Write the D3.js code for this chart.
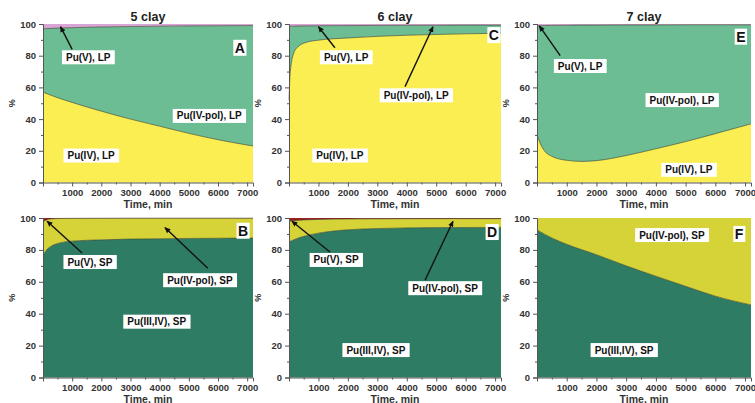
<!DOCTYPE html>
<html>
<head>
<meta charset="utf-8">
<script src="https://cdn.jsdelivr.net/npm/d3@7"></script>
<style>
  body { margin: 0; background: #fff; }
  svg text { font-family: "Liberation Sans", Arial, sans-serif; font-weight: bold; }
  .narrow { font-family: "Liberation Sans Narrow", "Liberation Sans", Arial, sans-serif; }
</style>
</head>
<body>
<script>
// --- data (time in min, share in %) ---
const titles = ['5 clay', '6 clay', '7 clay'];
const xTicks = [1000, 2000, 3000, 4000, 5000, 6000, 7000];
const yTicks = [0, 20, 40, 60, 80, 100];

// 5 clay, LP
const tA = [0, 500, 1000, 2000, 3000, 4000, 5000, 6000, 7200];
const puIV_A = [57, 53.5, 50.5, 45, 40, 35.5, 31, 27, 23];
const puIVpol_A = [40, 43.9, 47.2, 53.1, 58.4, 63.1, 67.8, 71.9, 76];
const puV_A = [3, 2.6, 2.3, 1.9, 1.6, 1.4, 1.2, 1.1, 1.0];

// 6 clay, LP
const tC = [0, 30, 70, 150, 300, 600, 1000, 2000, 3000, 4000, 5000, 6000, 7200];
const puIV_C = [52, 66, 74, 81, 85.5, 88.5, 89.8, 91.2, 92.2, 92.9, 93.4, 93.8, 94.2];
const puIVpol_C = [46.5, 32.5, 24.6, 17.6, 13.2, 10.3, 9.1, 7.8, 6.9, 6.3, 5.8, 5.5, 5.1];
const puV_C = [1.5, 1.5, 1.4, 1.4, 1.3, 1.2, 1.1, 1.0, 0.9, 0.8, 0.8, 0.7, 0.7];

// 7 clay, LP
const tE = [0, 100, 250, 500, 1000, 1500, 2000, 3000, 4000, 5000, 6000, 7200];
const puIV_E = [30, 25, 20, 16.5, 14, 13.3, 13.8, 17, 21.3, 25.8, 30.8, 37];
const puIVpol_E = [68.8, 73.9, 79, 82.6, 85.2, 86, 85.5, 82.4, 78.1, 73.7, 68.7, 62.5];
const puV_E = [1.2, 1.1, 1.0, 0.9, 0.8, 0.7, 0.7, 0.6, 0.6, 0.5, 0.5, 0.5];

// 5 clay, SP
const tB = [0, 50, 120, 250, 500, 1000, 2000, 3000, 4000, 5000, 6000, 7200];
const puIIIIV_B = [76, 78, 80, 82, 84, 85.5, 86.3, 86.8, 87, 87.2, 87.3, 87.4];
const puIVpolSP_B = [21.5, 20.2, 18.8, 17.4, 15.7, 14.3, 13.55, 13.1, 12.9, 12.7, 12.6, 12.5];
const puVSP_B = [2.5, 1.8, 1.2, 0.6, 0.3, 0.2, 0.15, 0.1, 0.1, 0.1, 0.1, 0.1];

// 6 clay, SP
const tD = [0, 250, 500, 1000, 1500, 2000, 3000, 4000, 5000, 7200];
const puIIIIV_D = [85, 87, 88.5, 90.5, 91.8, 92.6, 93.4, 93.8, 94, 94.1];
const puIVpolSP_D = [13, 11.5, 10.3, 8.6, 7.5, 6.8, 6.1, 5.75, 5.6, 5.5];
const puVSP_D = [2, 1.5, 1.2, 0.9, 0.7, 0.6, 0.5, 0.45, 0.4, 0.4];

// 7 clay, SP
const tF = [0, 500, 1000, 2000, 3000, 4000, 5000, 6000, 7200];
const puIIIIV_F = [92.5, 87.5, 83.5, 77, 70, 63.5, 57.2, 51, 45.5];
const puIVpolSP_F = [7.5, 12.5, 16.5, 23, 30, 36.5, 42.8, 49, 54.5];

const yellowLP = '#fbee52', greenLP = '#6cbd94', pinkLP = '#d8a5d6';
const greenSP = '#2e7c64', yellowSP = '#d6d338', redSP = '#9a1f1f';

const width = 755, height = 403;
const cols = [[43, 253], [289, 501], [537, 751]];
const rows = [[24, 182.5], [218, 377.5]];

const panels = [
  { letter: 'A', col: 0, row: 0, t: tA, letterAt: [6750, 85],
    series: [['Pu(IV), LP', puIV_A, yellowLP], ['Pu(IV-pol), LP', puIVpol_A, greenLP], ['Pu(V), LP', puV_A, pinkLP]],
    labels: [['Pu(V), LP', 1550, 79], ['Pu(IV-pol), LP', 5700, 42], ['Pu(IV), LP', 1650, 17]],
    arrows: [[[1000, 84], [600, 98.3]]] },
  { letter: 'C', col: 1, row: 0, t: tC, letterAt: [6960, 93],
    series: [['Pu(IV), LP', puIV_C, yellowLP], ['Pu(IV-pol), LP', puIVpol_C, greenLP], ['Pu(V), LP', puV_C, pinkLP]],
    labels: [['Pu(V), LP', 1940, 79], ['Pu(IV-pol), LP', 4320, 55], ['Pu(IV), LP', 1730, 17]],
    arrows: [[[1560, 85], [1000, 98.3]], [[3940, 60.5], [4890, 98.3]]] },
  { letter: 'E', col: 2, row: 0, t: tE, letterAt: [6860, 92],
    series: [['Pu(IV), LP', puIV_E, yellowLP], ['Pu(IV-pol), LP', puIVpol_E, greenLP], ['Pu(V), LP', puV_E, pinkLP]],
    labels: [['Pu(V), LP', 1450, 73.5], ['Pu(IV-pol), LP', 4880, 52], ['Pu(IV), LP', 5110, 8]],
    arrows: [[[780, 80], [80, 98.8]]] },
  { letter: 'B', col: 0, row: 1, t: tB, letterAt: [6860, 92],
    series: [['Pu(III,IV), SP', puIIIIV_B, greenSP], ['Pu(IV-pol), SP', puIVpolSP_B, yellowSP], ['Pu(V), SP', puVSP_B, redSP]],
    labels: [['Pu(V), SP', 1610, 72.4], ['Pu(IV-pol), SP', 5380, 61], ['Pu(III,IV), SP', 3900, 35]],
    arrows: [[[1340, 78], [140, 98]], [[5650, 68.5], [4180, 94]]] },
  { letter: 'D', col: 1, row: 1, t: tD, letterAt: [6900, 91.2],
    series: [['Pu(III,IV), SP', puIIIIV_D, greenSP], ['Pu(IV-pol), SP', puIVpolSP_D, yellowSP], ['Pu(V), SP', puVSP_D, redSP]],
    labels: [['Pu(V), SP', 1600, 73.7], ['Pu(IV-pol), SP', 5300, 56], ['Pu(III,IV), SP', 2950, 17.2]],
    arrows: [[[1390, 78.7], [100, 98]], [[4620, 61], [5570, 98]]] },
  { letter: 'F', col: 2, row: 1, t: tF, letterAt: [6800, 90],
    series: [['Pu(III,IV), SP', puIIIIV_F, greenSP], ['Pu(IV-pol), SP', puIVpolSP_F, yellowSP]],
    labels: [['Pu(IV-pol), SP', 4540, 89.3], ['Pu(III,IV), SP', 2930, 17.2]],
    arrows: [] }
];

const svg = d3.select('body').append('svg')
  .attr('width', width).attr('height', height);

svg.append('defs').append('marker')
  .attr('id', 'arr').attr('viewBox', '0 -5 10 10')
  .attr('refX', 9).attr('refY', 0)
  .attr('markerWidth', 6).attr('markerHeight', 6)
  .attr('markerUnits', 'userSpaceOnUse')
  .attr('orient', 'auto')
  .append('path').attr('d', 'M0,-4.5L10,0L0,4.5Z').attr('fill', '#111');

// column titles
titles.forEach((title, i) => {
  svg.append('text')
    .attr('x', (cols[i][0] + cols[i][1]) / 2).attr('y', 21)
    .attr('text-anchor', 'middle')
    .attr('font-size', 12.5).attr('fill', '#222')
    .text(title);
});

panels.forEach((p) => {
  const [x0, x1] = cols[p.col];
  const [y0, y1] = rows[p.row];
  const x = d3.scaleLinear().domain([0, 7200]).range([x0, x1]);
  const y = d3.scaleLinear().domain([0, 100]).range([y1, y0]);
  const g = svg.append('g');

  const keys = p.series.map((s) => s[0]);
  const table = p.t.map((tt, i) => {
    const row = { t: tt };
    p.series.forEach((s) => { row[s[0]] = s[1][i]; });
    return row;
  });
  const stacked = d3.stack().keys(keys)(table);

  const area = d3.area()
    .curve(d3.curveMonotoneX)
    .x((d) => x(d.data.t))
    .y0((d) => y(d[0]))
    .y1((d) => y(Math.min(d[1], 100)));

  g.selectAll('path.layer')
    .data(stacked)
    .join('path')
    .attr('class', 'layer')
    .attr('d', area)
    .attr('fill', (d, i) => p.series[i][2]);

  // thin boundary lines between layers
  const edge = d3.line()
    .curve(d3.curveMonotoneX)
    .x((d) => x(d.data.t))
    .y((d) => y(d[1]));
  g.selectAll('path.edge')
    .data(stacked.slice(0, -1))
    .join('path')
    .attr('class', 'edge')
    .attr('d', edge)
    .attr('fill', 'none')
    .attr('stroke', '#3b4526')
    .attr('stroke-opacity', 0.7)
    .attr('stroke-width', 0.9);

  // axes
  const ax = g.append('g').attr('transform', `translate(0,${y1})`)
    .call(d3.axisBottom(x).tickValues(xTicks).tickSize(4).tickPadding(3).tickFormat(d3.format('d')));
  g.append('g').attr('transform', `translate(0,${y1})`)
    .call(d3.axisBottom(x).tickValues(d3.range(500, 7200, 1000)).tickSize(2).tickFormat(''))
    .call((s) => s.select('.domain').remove());
  const ay = g.append('g').attr('transform', `translate(${x0},0)`)
    .call(d3.axisLeft(y).tickValues(yTicks).tickSize(4).tickPadding(3));
  g.append('g').attr('transform', `translate(${x0},0)`)
    .call(d3.axisLeft(y).tickValues(d3.range(10, 100, 20)).tickSize(2).tickFormat(''))
    .call((s) => s.select('.domain').remove());
  svg.selectAll('.domain, .tick line').attr('stroke', '#555');
  [ax, ay].forEach((a) => a.selectAll('text')
    .attr('class', 'narrow').attr('font-size', 9.5).attr('fill', '#333'));

  g.append('text').attr('class', 'narrow')
    .attr('x', (x0 + x1) / 2).attr('y', y1 + 25)
    .attr('text-anchor', 'middle').attr('font-size', 10.5).attr('fill', '#333')
    .text('Time, min');
  g.append('text')
    .attr('transform', `translate(${x0 - 28},${(y0 + y1) / 2}) rotate(-90)`)
    .attr('text-anchor', 'middle').attr('font-size', 9).attr('fill', '#333')
    .text('%');

  // arrows
  p.arrows.forEach((a) => {
    g.append('line')
      .attr('x1', x(a[0][0])).attr('y1', y(a[0][1]))
      .attr('x2', x(a[1][0])).attr('y2', y(a[1][1]))
      .attr('stroke', '#111').attr('stroke-width', 1.4)
      .attr('marker-end', 'url(#arr)');
  });

  // boxed labels
  const boxed = (txt, tx, ty, size, padX, padY) => {
    const lg = g.append('g');
    const t = lg.append('text')
      .attr('x', x(tx)).attr('y', y(ty))
      .attr('text-anchor', 'middle').attr('dominant-baseline', 'central')
      .attr('font-size', size).attr('fill', '#111')
      .text(txt);
    const bb = t.node().getBBox();
    lg.insert('rect', 'text')
      .attr('x', bb.x - padX).attr('y', bb.y - padY)
      .attr('width', bb.width + 2 * padX).attr('height', bb.height + 2 * padY)
      .attr('fill', '#fff');
  };
  p.labels.forEach((l) => boxed(l[0], l[1], l[2], 10, 4, 1.5));
  boxed(p.letter, p.letterAt[0], p.letterAt[1], 14, 1.5, 0);
});
</script>
</body>
</html>
